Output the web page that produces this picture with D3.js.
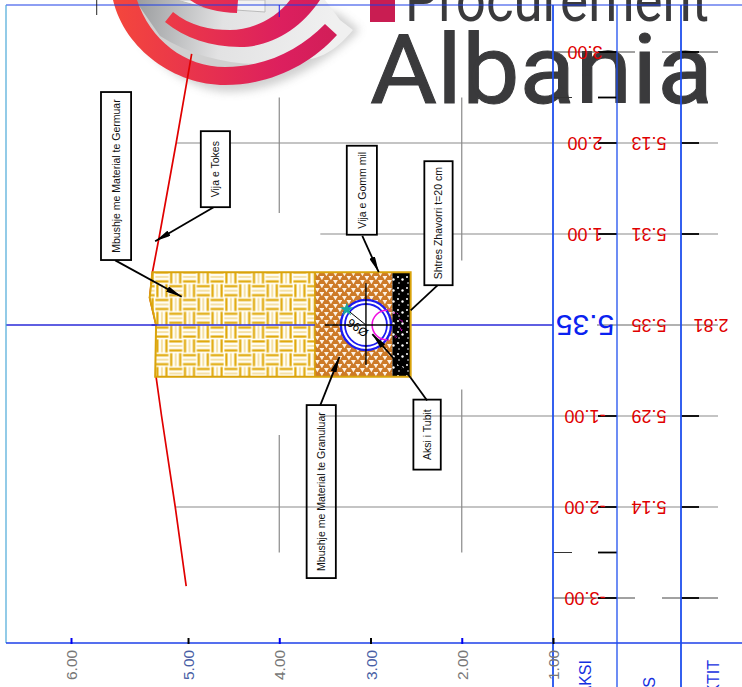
<!DOCTYPE html>
<html lang="en">
  <head>
    <meta charset="UTF-8" />
    <title>Prerje terthore</title>
    <script src="https://d3js.org/d3.v7.min.js"></script>
    <style>
      body {
        margin: 0;
        padding: 0;
        background: #fff;
      }
      svg {
        display: block;
        font-family: 'Liberation Sans', Arial, sans-serif;
      }
    </style>
  </head>

  <body>
    <svg width="742" height="687"></svg>

    <script>
      // kuotat (horizontal on the sheet) and offsets from the axis (vertical)
      var levelTicks = [6, 5, 4, 3, 2, 1]
      var offsetTicks = [3, 2, 1, -1, -2, -3]
      var shortRows = [2.5, -2.5]
      var levelColors = ['#777', '#4a5fa5', '#777', '#4a5fa5', '#777', '#777']

      // ground line
      var groundOffsets = [2.98, 2, 1, 0.58, 0.3, 0, -0.57, -1, -2, -2.87]
      var groundLevels = [4.96, 5.13, 5.31, 5.39, 5.42, 5.35, 5.35, 5.29, 5.14, 5.02]

      // table rows
      var tableRows = [3, 2, 1, -1, -2, -3]
      var tableGround = [null, 5.13, 5.31, 5.29, 5.14, null]
      var axisOffset = 0
      var axisGround = 5.35
      var axisPipe = 2.81

      // trench layers
      var trenchOffsets = [0.58, 0.3, 0, -0.57, -0.57, 0.58]
      var trenchLevels = [5.39, 5.42, 5.35, 5.36, 2.56, 2.56]
      var granularTop = 3.61
      var gravelTop = 2.76
      var pipeLevel = 3.05
      var pipeOuter = 0.275
      var pipeInner = 0.23

      // grid stubs [level, from offset, to offset]
      var gridStubs = [
        [4, 2.5, 1.23],
        [4, -1.21, -2.5],
        [2, 2.5, 0.71],
        [2, -0.71, -2.5],
      ]
      // grid rows [offset, from level]
      var gridRows = [
        [2, 5.13],
        [1, 3.55],
        [-1, 3.55],
        [-2, 5.14],
      ]

      // callouts
      var labelTexts = [
        'Mbushje me Material te Germuar',
        'Vija e Tokes',
        'Vija e Gomm mil',
        'Shtres Zhavorri t=20 cm',
        'Mbushje me Material te Granuluar',
        'Aksi i Tubit',
      ]
      var labelLevels = [5.79, 4.86, 3.26, 2.41, 3.7, 2.53]
      var labelOffsets = [2.56, 2.13, 1.97, 1.8, -0.88, -0.82]
      var labelLengths = [168, 76, 89, 124, 173, 70]
      var labelWidths = [0.33, 0.32, 0.33, 0.31, 0.32, 0.3]
      // leader [from level, from offset, to level, to offset, arrow]
      var leaders = [
        [5.69, 0.71, 5.07, 0.31, 1],
        [4.71, 1.3, 5.36, 0.92, 1],
        [3.09, 0.98, 2.91, 0.58, 1],
        [2.26, 0.44, 2.56, 0.16, 0],
        [3.55, -0.88, 3.34, -0.35, 1],
        [2.38, -0.83, 2.56, -0.58, 0],
        [2.56, -0.58, 2.98, -0.1, 1],
      ]

      var svg = d3.select('svg')

      var x = d3.scaleLinear().domain([6, 5.5, 1]).range([71, 142.4, 553])
      var y = d3.scaleLinear().domain([3, -3]).range([52, 598])
      var columns = ['AKSI', 'S', 'KTIT']
      var col = d3.scaleBand().domain(columns).range([553, 745])
      var colMid = (d) => col(d) + col.bandwidth() / 2

      var ink = '#000'
      var grey = '#8a8a8a'
      var blue = '#1f4fee'
      var red = '#e00000'

      var defs = svg.append('defs')

      // logo gradients
      var crimson = defs
        .append('linearGradient')
        .attr('id', 'crimson')
        .attr('gradientUnits', 'userSpaceOnUse')
        .attr('x1', 113)
        .attr('x2', 395)
        .attr('y1', 0)
        .attr('y2', 0)
      crimson.append('stop').attr('offset', 0).attr('stop-color', '#f4473c')
      crimson.append('stop').attr('offset', 0.6).attr('stop-color', '#dc1f5e')
      crimson.append('stop').attr('offset', 1).attr('stop-color', '#c51d52')

      var silver = defs
        .append('linearGradient')
        .attr('id', 'silver')
        .attr('gradientUnits', 'userSpaceOnUse')
        .attr('x1', 135)
        .attr('x2', 330)
        .attr('y1', 10)
        .attr('y2', 40)
      silver.append('stop').attr('offset', 0).attr('stop-color', '#9a9c9e')
      silver.append('stop').attr('offset', 0.45).attr('stop-color', '#e2e2e3')
      silver.append('stop').attr('offset', 1).attr('stop-color', '#f0f0f0')

      defs
        .append('filter')
        .attr('id', 'soft')
        .attr('x', '-20%')
        .attr('y', '-20%')
        .attr('width', '140%')
        .attr('height', '160%')
        .append('feGaussianBlur')
        .attr('stdDeviation', 4)

      // fill patterns
      var cell = 13.8
      var weave = defs
        .append('pattern')
        .attr('id', 'weave')
        .attr('patternUnits', 'userSpaceOnUse')
        .attr('x', 155)
        .attr('y', 270)
        .attr('width', cell * 2)
        .attr('height', cell * 2)
      weave
        .append('rect')
        .attr('width', cell * 2)
        .attr('height', cell * 2)
        .attr('fill', '#fffdf4')
      function weaveCell(cx, cy, upright) {
        ;[2.4, 6.9, 11.4].forEach(function (p, i) {
          var line = weave
            .append('line')
            .attr('stroke', i == 1 ? '#f5dfa0' : '#e0a90a')
            .attr('stroke-width', i == 1 ? 1.8 : 2.2)
          if (upright) {
            line
              .attr('x1', cx + p)
              .attr('x2', cx + p)
              .attr('y1', cy + 0.4)
              .attr('y2', cy + cell - 0.4)
          } else {
            line
              .attr('x1', cx + 0.4)
              .attr('x2', cx + cell - 0.4)
              .attr('y1', cy + p)
              .attr('y2', cy + p)
          }
        })
      }
      weaveCell(0, 0, false)
      weaveCell(cell, 0, true)
      weaveCell(0, cell, true)
      weaveCell(cell, cell, false)

      var grain = defs
        .append('pattern')
        .attr('id', 'grain')
        .attr('patternUnits', 'userSpaceOnUse')
        .attr('width', 9)
        .attr('height', 8)
      grain.append('rect').attr('width', 9).attr('height', 8).attr('fill', '#cd7a28')
      grain.append('path').attr('d', 'M0,0h4.8l-2.4,4.2z').attr('fill', '#fdf3e6')
      grain.append('path').attr('d', 'M4.5,4h4.8l-2.4,4.2z').attr('fill', '#fdf3e6')

      var stones = defs
        .append('pattern')
        .attr('id', 'stones')
        .attr('patternUnits', 'userSpaceOnUse')
        .attr('width', 9)
        .attr('height', 11)
      stones.append('rect').attr('width', 9).attr('height', 11).attr('fill', '#000')
      stones.append('circle').attr('cx', 2).attr('cy', 2).attr('r', 1).attr('fill', '#fff')
      stones.append('circle').attr('cx', 6.5).attr('cy', 4.5).attr('r', 1.2).attr('fill', '#fff')
      stones.append('circle').attr('cx', 3).attr('cy', 8).attr('r', 0.8).attr('fill', '#fff')

      // logo watermark
      var logo = svg.append('g')
      logo
        .append('path')
        .attr('d', 'M120,0C140,60 190,92 230,92C280,92 330,60 360,30L340,14L300,0Z')
        .attr('fill', '#999')
        .attr('opacity', 0.45)
        .attr('filter', 'url(#soft)')
      logo
        .append('path')
        .attr('d', 'M135,0L325,0L340,20L353,30C335,52 318,60 300,60C255,70 200,62 160,36Z')
        .attr('fill', 'url(#silver)')
      logo
        .append('path')
        .attr('d', 'M177,0L265,0L265,12L205,8Z')
        .attr('fill', '#f2f2f2')
        .attr('stroke', '#bbb')
      logo
        .append('path')
        .attr('d', 'M113,0C125,50 175,85 225,85C270,85 310,65 337,35L325,24C300,50 265,67 225,67C185,67 150,40 137,0Z')
        .attr('fill', 'url(#crimson)')
      logo
        .append('path')
        .attr('d', 'M165,22L173,12C190,26 210,30 230,30C250,30 275,20 290,0L320,0C300,30 270,47 240,47C210,47 185,38 165,22Z')
        .attr('fill', 'url(#crimson)')
      logo
        .append('path')
        .attr('d', 'M190,0C200,8 220,13 237,13L238,0Z')
        .attr('fill', 'url(#crimson)')
      logo
        .append('rect')
        .attr('x', 370)
        .attr('y', -2)
        .attr('width', 25)
        .attr('height', 24)
        .attr('fill', '#c91d52')
      logo
        .append('text')
        .text('Procurement')
        .attr('x', 405)
        .attr('y', 21)
        .attr('textLength', 304)
        .attr('lengthAdjust', 'spacingAndGlyphs')
        .attr('font-family', 'Roboto')
        .attr('font-size', 62)
        .attr('fill', '#3a3a3c')
      logo
        .append('text')
        .text('Albania')
        .attr('x', 370)
        .attr('y', 103)
        .attr('textLength', 343)
        .attr('lengthAdjust', 'spacingAndGlyphs')
        .attr('font-family', 'Roboto')
        .attr('font-size', 97)
        .attr('fill', '#3a3a3c')
        .attr('stroke', '#3a3a3c')
        .attr('stroke-width', 1)

      // grid
      var grid = svg.append('g').attr('stroke', grey).attr('stroke-width', 1.2)
      grid
        .selectAll('.stub')
        .data(gridStubs)
        .enter()
        .append('line')
        .attr('x1', (d) => x(d[0]))
        .attr('x2', (d) => x(d[0]))
        .attr('y1', (d) => y(d[1]))
        .attr('y2', (d) => y(d[2]))
      grid
        .selectAll('.row')
        .data(gridRows)
        .enter()
        .append('line')
        .attr('x1', (d) => x(d[1]))
        .attr('x2', 718)
        .attr('y1', (d) => y(d[0]))
        .attr('y2', (d) => y(d[0]))

      // rows that break round the empty table cell
      ;[3, -3].forEach(function (o) {
        ;[[553, 635], [662, 718]].forEach(function (seg) {
          svg
            .append('line')
            .attr('x1', seg[0])
            .attr('x2', seg[1])
            .attr('y1', y(o))
            .attr('y2', y(o))
            .attr('stroke', '#444')
        })
      })
      shortRows.forEach(function (o) {
        svg
          .append('line')
          .attr('x1', 553)
          .attr('x2', 572)
          .attr('y1', y(o))
          .attr('y2', y(o))
          .attr('stroke', '#333')
        svg
          .append('line')
          .attr('x1', 598)
          .attr('x2', col('S'))
          .attr('y1', y(o))
          .attr('y2', y(o))
          .attr('stroke', ink)
          .attr('stroke-width', 1.8)
      })

      // bold table ticks
      var ticksG = svg.append('g').attr('stroke', ink).attr('stroke-width', 1.8)
      offsetTicks.forEach(function (o) {
        ticksG
          .append('line')
          .attr('x1', 598)
          .attr('x2', col('S'))
          .attr('y1', y(o))
          .attr('y2', y(o))
        ticksG
          .append('line')
          .attr('x1', col('KTIT'))
          .attr('x2', 699)
          .attr('y1', y(o))
          .attr('y2', y(o))
      })

      // axis row, blue as far as the table, then grey
      svg
        .append('line')
        .attr('x1', 6)
        .attr('x2', x(1))
        .attr('y1', y(axisOffset))
        .attr('y2', y(axisOffset))
        .attr('stroke', '#2a2ad8')
        .attr('stroke-width', 1.5)
      svg
        .append('line')
        .attr('x1', 597)
        .attr('x2', 718)
        .attr('y1', y(axisOffset))
        .attr('y2', y(axisOffset))
        .attr('stroke', '#666')
        .attr('stroke-width', 1.2)

      // ground line
      var groundLine = d3
        .line()
        .x((d) => x(d[1]))
        .y((d) => y(d[0]))
      svg
        .append('path')
        .datum(d3.zip(groundOffsets, groundLevels))
        .attr('d', groundLine)
        .attr('fill', 'none')
        .attr('stroke', '#e00000')
        .attr('stroke-width', 1.7)

      // trench
      var trenchPts = d3.zip(trenchOffsets, trenchLevels)
      defs
        .append('clipPath')
        .attr('id', 'trench')
        .append('path')
        .attr('d', groundLine(trenchPts) + 'Z')
      var trench = svg.append('g').attr('clip-path', 'url(#trench)')
      function layer(from, to, pattern) {
        trench
          .append('rect')
          .attr('x', x(from))
          .attr('y', y(0.7))
          .attr('width', x(to) - x(from))
          .attr('height', y(-0.7) - y(0.7))
          .attr('fill', 'url(#' + pattern + ')')
      }
      layer(5.5, granularTop, 'weave')
      layer(granularTop, gravelTop, 'grain')
      layer(gravelTop, 2.56, 'stones')

      svg
        .append('line')
        .attr('x1', x(granularTop))
        .attr('x2', x(granularTop))
        .attr('y1', y(0.58))
        .attr('y2', y(-0.57))
        .attr('stroke', '#d9a30b')
        .attr('stroke-width', 1.6)
      svg
        .append('path')
        .attr('d', groundLine(trenchPts) + 'Z')
        .attr('fill', 'none')
        .attr('stroke', '#d9a30b')
        .attr('stroke-width', 2)

      // blue axis again on top of the fill
      svg
        .append('line')
        .attr('x1', x(5.4))
        .attr('x2', x(granularTop))
        .attr('y1', y(axisOffset))
        .attr('y2', y(axisOffset))
        .attr('stroke', '#2a2ad8')
        .attr('stroke-width', 1.5)

      // pipe
      var px = x(pipeLevel)
      var py = y(0)
      var r = x(0) - x(pipeOuter)
      var r2 = x(0) - x(pipeInner)
      svg
        .append('circle')
        .attr('cx', px)
        .attr('cy', py)
        .attr('r', r)
        .attr('fill', '#fff')
        .attr('stroke', '#1c1cf0')
        .attr('stroke-width', 2.4)
      svg
        .append('circle')
        .attr('cx', px)
        .attr('cy', py)
        .attr('r', r2)
        .attr('fill', '#fff')
        .attr('stroke', '#1c1cf0')
        .attr('stroke-width', 1.8)
      var arcGen = d3.arc()
      svg
        .append('path')
        .attr('transform', `translate(${x(2.82)},${py})`)
        .attr('d', arcGen({ innerRadius: 14, outerRadius: 15.6, startAngle: Math.PI, endAngle: Math.PI * 2 }))
        .attr('fill', '#f010e0')
      svg
        .append('path')
        .attr('transform', `translate(${x(2.82)},${py})`)
        .attr('d', arcGen({ innerRadius: 14, outerRadius: 15.6, startAngle: 0.1, endAngle: Math.PI - 0.1 }))
        .attr('fill', 'none')
        .attr('stroke', '#f010e0')
        .attr('stroke-dasharray', '2 7')

      // pipe axes and diameter
      var axesG = svg.append('g').attr('stroke', ink)
      axesG
        .append('line')
        .attr('x1', x(3.5))
        .attr('x2', x(2.74))
        .attr('y1', py)
        .attr('y2', py)
        .attr('stroke-width', 1.6)
      axesG
        .append('line')
        .attr('x1', px)
        .attr('x2', px)
        .attr('y1', y(0.46))
        .attr('y2', y(-0.44))
        .attr('stroke-width', 1.4)
      axesG
        .append('line')
        .attr('x1', px)
        .attr('x2', x(3.26))
        .attr('y1', py)
        .attr('y2', y(0.17))
      svg
        .append('path')
        .attr('d', d3.symbol(d3.symbolStar, 60)())
        .attr('transform', `translate(${x(3.26)},${y(0.17)})`)
        .attr('fill', '#18a8a0')
      svg
        .append('text')
        .text('\u00d896')
        .attr('transform', `translate(${x(3.14)},${y(-0.03)}) rotate(215)`)
        .attr('text-anchor', 'middle')
        .attr('dominant-baseline', 'central')
        .attr('font-size', 12)

      // leaders
      defs
        .append('marker')
        .attr('id', 'head')
        .attr('viewBox', '0 0 16 6')
        .attr('refX', 16)
        .attr('refY', 3)
        .attr('markerUnits', 'userSpaceOnUse')
        .attr('markerWidth', 16)
        .attr('markerHeight', 6)
        .attr('orient', 'auto')
        .append('path')
        .attr('d', 'M0,0L16,3L0,6Z')
        .attr('fill', ink)
      svg
        .selectAll('.leader')
        .data(leaders)
        .enter()
        .append('line')
        .attr('x1', (d) => x(d[0]))
        .attr('y1', (d) => y(d[1]))
        .attr('x2', (d) => x(d[2]))
        .attr('y2', (d) => y(d[3]))
        .attr('stroke', ink)
        .attr('stroke-width', 1.8)
        .attr('marker-end', (d) => (d[4] ? 'url(#head)' : null))

      // callout boxes
      var boxes = svg
        .selectAll('.box')
        .data(labelTexts)
        .enter()
        .append('g')
        .attr('transform', (d, i) => `translate(${x(labelLevels[i])},${y(labelOffsets[i])})`)
      boxes
        .append('rect')
        .attr('width', (d, i) => x(0) - x(labelWidths[i]))
        .attr('height', (d, i) => labelLengths[i])
        .attr('fill', (d, i) => (i == 4 || i == 5 ? 'none' : '#fff'))
        .attr('stroke', ink)
        .attr('stroke-width', 1.8)
      boxes
        .append('text')
        .text((d) => d)
        .attr('transform', function (d, i) {
          var w = x(0) - x(labelWidths[i])
          return `translate(${w / 2},${labelLengths[i] / 2}) rotate(-90)`
        })
        .attr('text-anchor', 'middle')
        .attr('dominant-baseline', 'central')
        .attr('font-size', 10.5)
        .attr('fill', '#111')

      // sheet frame
      var frame = svg.append('g').attr('fill', 'none')
      frame
        .append('line')
        .attr('x1', 6)
        .attr('x2', 742)
        .attr('y1', 5)
        .attr('y2', 5)
        .attr('stroke', '#1c3fe8')
        .attr('stroke-width', 1.2)
      frame
        .append('line')
        .attr('x1', 6)
        .attr('x2', 6)
        .attr('y1', 5)
        .attr('y2', 643)
        .attr('stroke', '#4aa8d8')
        .attr('stroke-width', 1.2)
      frame
        .append('line')
        .attr('x1', 6)
        .attr('x2', 742)
        .attr('y1', 643)
        .attr('y2', 643)
        .attr('stroke', '#1c3fe8')
        .attr('stroke-width', 1.4)
      frame
        .selectAll('.colLine')
        .data(columns)
        .enter()
        .append('line')
        .attr('x1', (d) => col(d))
        .attr('x2', (d) => col(d))
        .attr('y1', 5)
        .attr('y2', 687)
        .attr('stroke', blue)
        .attr('stroke-width', (d) => (d == 'S' ? 1.3 : 1.8))

      // top stubs
      svg
        .append('line')
        .attr('x1', x(5.82))
        .attr('x2', x(5.82))
        .attr('y1', 0)
        .attr('y2', 15)
        .attr('stroke', '#222')
      svg
        .append('line')
        .attr('x1', x(4))
        .attr('x2', x(4))
        .attr('y1', 5)
        .attr('y2', 17)
        .attr('stroke', '#1c1ce8')

      // level axis
      var levelAxis = d3
        .axisBottom(x)
        .tickValues(levelTicks)
        .tickSize(-6)
        .tickPadding(0)
        .tickFormat(d3.format('.2f'))
      var axisG = svg.append('g').attr('transform', 'translate(0,644)').call(levelAxis)
      axisG.select('.domain').remove()
      axisG
        .selectAll('.tick line')
        .attr('stroke', (d, i) => (i % 2 ? '#000' : '#0000f0'))
        .attr('stroke-width', 2)
      axisG
        .selectAll('.tick text')
        .attr('transform', 'translate(0,36) rotate(-90)')
        .attr('x', 0)
        .attr('y', 0)
        .attr('dy', '0.36em')
        .attr('text-anchor', 'start')
        .attr('font-size', 15.5)
        .attr('font-family', 'Liberation Sans')
        .attr('fill', (d, i) => levelColors[i])

      // table values, upside down as on the sheet
      var fmt = d3.format('.2f')
      function flipped(text, cx, cy, size, color, weight) {
        svg
          .append('text')
          .text(text)
          .attr('transform', `translate(${cx},${cy}) rotate(180)`)
          .attr('text-anchor', 'middle')
          .attr('dominant-baseline', 'central')
          .attr('font-size', size)
          .attr('font-weight', weight || 400)
          .attr('fill', color)
      }
      tableRows.forEach(function (o, i) {
        flipped(fmt(o).replace('\u2212', '-'), colMid('AKSI'), y(o), 18, red)
        if (tableGround[i] != null) {
          flipped(fmt(tableGround[i]), colMid('S'), y(o), 18, red)
        }
      })
      flipped(fmt(axisGround), colMid('AKSI'), y(axisOffset), 30, '#0a22f0')
      flipped(fmt(axisGround), colMid('S'), y(axisOffset), 18, red)
      flipped(fmt(axisPipe), colMid('KTIT') - 2, y(axisOffset), 18, red)

      // column heads, cut by the page edge
      columns.forEach(function (c) {
        svg
          .append('text')
          .text(c)
          .attr('transform', `translate(${colMid(c)},${c == 'S' ? 677 : 660}) rotate(-90)`)
          .attr('text-anchor', 'end')
          .attr('dominant-baseline', 'central')
          .attr('font-size', 16)
          .attr('fill', '#1530e0')
      })
    </script>
  </body>
</html>
